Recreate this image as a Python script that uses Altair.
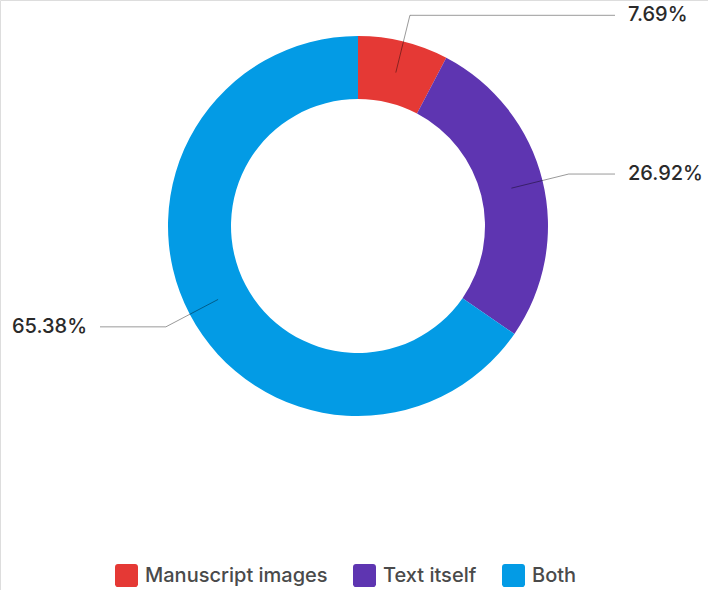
import altair as alt
import pandas as pd

categories = ["Manuscript images", "Text itself", "Both"]
shares = [7.69, 26.92, 65.38]
colors = ["#e53935", "#5e35b1", "#039be5"]

df = pd.DataFrame({"category": categories, "share": shares, "idx": list(range(len(categories)))})

CX, CY = 358, 226
R_OUT, R_IN = 190, 127
R_START, R_ELBOW = 158, 217
X_RIGHT_END, X_LEFT_END = 615, 100
X_RIGHT_LABEL, X_LEFT_LABEL = 628, 87
FONT = "Inter"

rounded_square = ("M-0.75,-1 H0.75 A0.25,0.25 0 0 1 1,-0.75 V0.75 A0.25,0.25 0 0 1 0.75,1 "
                  "H-0.75 A0.25,0.25 0 0 1 -1,0.75 V-0.75 A0.25,0.25 0 0 1 -0.75,-1 Z")

base = alt.Chart(df)

color = alt.Color(
    "category:N",
    scale=alt.Scale(domain=categories, range=colors),
    sort=categories,
    legend=alt.Legend(
        title=None, orient="none", direction="horizontal",
        legendX=115, legendY=564,
        symbolType=rounded_square, symbolSize=529, symbolStrokeWidth=0, symbolOpacity=1,
        labelFont=FONT, labelFontSize=20, labelColor="#4a4a4a", labelFontWeight=500,
        labelLimit=400, labelOffset=7, columnPadding=25,
    ),
)

arcs = base.mark_arc(outerRadius=R_OUT, innerRadius=R_IN).encode(
    theta=alt.Theta("share:Q", stack=True),
    color=color,
    order=alt.Order("idx:Q"),
    x=alt.value(CX),
    y=alt.value(CY),
)

geo = base.transform_joinaggregate(total="sum(share)").transform_window(
    cum="sum(share)", sort=[alt.SortField("idx")], frame=[None, 0]
).transform_calculate(
    mid="2*PI*(datum.cum - datum.share/2)/datum.total"
).transform_calculate(
    side="sin(datum.mid) >= 0 ? 1 : -1"
)

lines = geo.transform_calculate(pts="[0,1,2]").transform_flatten(["pts"]).transform_calculate(
    r=f"datum.pts == 0 ? {R_START} : {R_ELBOW}"
).transform_calculate(
    px=f"datum.pts == 2 ? (datum.side > 0 ? {X_RIGHT_END} : {X_LEFT_END}) : {CX} + datum.r*sin(datum.mid)",
    py=f"{CY} - datum.r*cos(datum.mid)",
).mark_line(stroke="#000", strokeOpacity=0.4, strokeWidth=1).encode(
    x=alt.X("px:Q", scale=None, axis=None),
    y=alt.Y("py:Q", scale=None, axis=None),
    detail="category:N",
    order="pts:Q",
)

def label_layer(cond, lx, align):
    return geo.transform_filter(cond).transform_calculate(
        lx=str(lx),
        ly=f"{CY} - {R_ELBOW}*cos(datum.mid)",
        txt="format(datum.share, '.2f') + '%'",
    ).mark_text(align=align, baseline="middle", font=FONT, fontSize=20, fontWeight=500, color="#2a2a2a").encode(
        x=alt.X("lx:Q", scale=None, axis=None),
        y=alt.Y("ly:Q", scale=None, axis=None),
        text="txt:N",
    )

labels_r = label_layer("datum.side > 0", X_RIGHT_LABEL, "left")
labels_l = label_layer("datum.side < 0", X_LEFT_LABEL, "right")

chart = alt.layer(arcs, lines, labels_r, labels_l).properties(
    width=708, height=590, autosize=alt.AutoSizeParams(type="none"), padding=0
).configure_view(strokeWidth=0, stroke="transparent").configure(background="white")

chart.save("out.html", embed_options={"renderer": "svg", "actions": False})
